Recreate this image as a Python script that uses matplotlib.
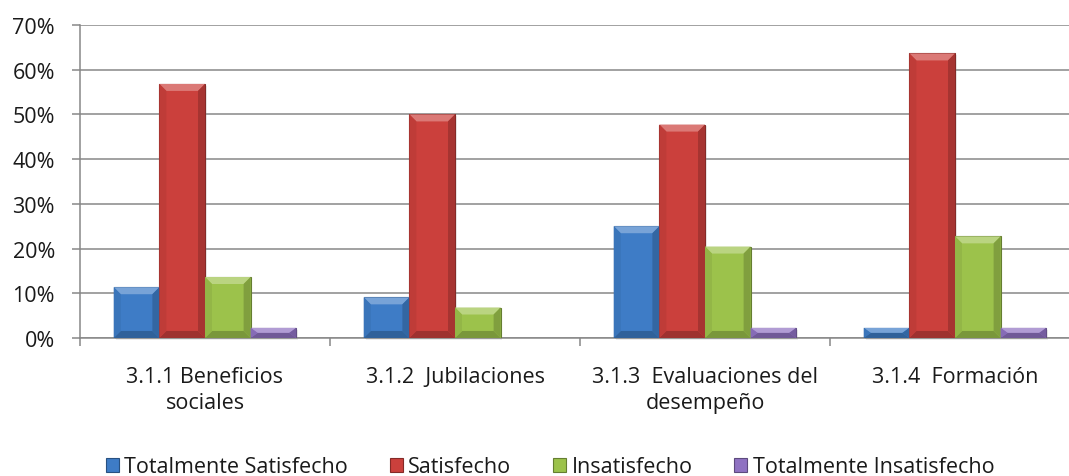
import numpy as np
import matplotlib.pyplot as plt
from matplotlib.patches import Polygon, Rectangle, Patch
from matplotlib.colors import to_rgb

# Survey results per area (share of respondents)
categories = ['3.1.1 Beneficios\nsociales', '3.1.2  Jubilaciones',
              '3.1.3  Evaluaciones del\ndesempeño', '3.1.4  Formación']
series = ['Totalmente Satisfecho', 'Satisfecho', 'Insatisfecho', 'Totalmente Insatisfecho']
totalmente_satisfecho = [0.1136, 0.0909, 0.2500, 0.0227]
satisfecho = [0.5682, 0.5000, 0.4773, 0.6364]
insatisfecho = [0.1364, 0.0682, 0.2045, 0.2273]
totalmente_insatisfecho = [0.0227, 0.0, 0.0227, 0.0227]
values = [totalmente_satisfecho, satisfecho, insatisfecho, totalmente_insatisfecho]
yticks = np.arange(0, 0.71, 0.1)

colors = ['#3E7CC6', '#CB403C', '#9CC24B', '#8F72C2']
fs = 15.5

plt.rcParams['font.family'] = ['Open Sans', 'DejaVu Sans']

W, H = 1069, 477
fig = plt.figure(figsize=(W / 100, H / 100), dpi=100)
ax = fig.add_axes([80 / W, 138 / H, 1000 / W, 313 / H])


def shade(c, f):
    r = np.array(to_rgb(c))
    if f >= 0:
        return tuple(r + (1 - r) * f)
    return tuple(r * (1 + f))


def bevel_bar(ax, x0, w, h, color):
    if h <= 0:
        return
    # soft drop shadow
    for k, a in [(0.012, 0.18), (0.007, 0.3)]:
        ax.add_patch(Rectangle((x0 + k * 0.6, -k * 0.35), w, h, color='#9a9a9a', alpha=a,
                               lw=0, zorder=2, clip_on=False))
    ax.add_patch(Rectangle((x0, 0), w, h, facecolor=color, edgecolor=shade(color, -0.35),
                           lw=0.8, zorder=3))
    dx = min(7 / 250, w / 2)
    dy = min(7 / 447, h / 2)
    faces = [
        ([(x0, h), (x0 + w, h), (x0 + w - dx, h - dy), (x0 + dx, h - dy)], shade(color, 0.3)),
        ([(x0, 0), (x0 + w, 0), (x0 + w - dx, dy), (x0 + dx, dy)], shade(color, -0.22)),
        ([(x0, 0), (x0, h), (x0 + dx, h - dy), (x0 + dx, dy)], shade(color, -0.06)),
        ([(x0 + w, 0), (x0 + w, h), (x0 + w - dx, h - dy), (x0 + w - dx, dy)], shade(color, -0.18)),
    ]
    for pts, fc in faces:
        ax.add_patch(Polygon(pts, closed=True, facecolor=fc, lw=0, zorder=4))


bw = 0.1825
x = np.arange(len(categories))
for i, (vals, col) in enumerate(zip(values, colors)):
    for xi, v in zip(x, vals):
        bevel_bar(ax, xi - 2 * bw + i * bw, bw, v, col)

ax.set_xlim(-0.5, 3.5)
ax.set_ylim(0, 0.7)
ax.set_yticks(yticks)
ax.set_yticklabels([f'{int(round(t * 100))}%' for t in yticks])
ax.yaxis.grid(True, color='#878787', lw=1.1)
ax.set_axisbelow(True)

ax.set_xticks(x)
ax.set_xticklabels(categories, linespacing=1.3, va='top')
ax.set_xticks(np.arange(-0.5, 4, 1), minor=True)
ax.tick_params(axis='x', which='major', length=0, pad=20, labelsize=fs, labelcolor='#1a1a1a')
ax.tick_params(axis='x', which='minor', length=6, width=1.1, color='#878787')
ax.tick_params(axis='y', length=6, width=1.1, color='#878787', pad=12,
               labelsize=fs, labelcolor='#1a1a1a')

for s in ['top', 'right']:
    ax.spines[s].set_visible(False)
for s in ['left', 'bottom']:
    ax.spines[s].set_color('#878787')
    ax.spines[s].set_linewidth(1.1)

handles = [Patch(facecolor=c, edgecolor=shade(c, -0.35), lw=0.8) for c in colors]
fig.legend(handles, series, loc='center', bbox_to_anchor=(550 / W, 9 / H), ncol=4,
           frameon=False, fontsize=fs, handlelength=0.6, handleheight=0.6,
           handletextpad=0.25, columnspacing=1.95, labelcolor='#1a1a1a')

fig.savefig('out.png', dpi=100)
